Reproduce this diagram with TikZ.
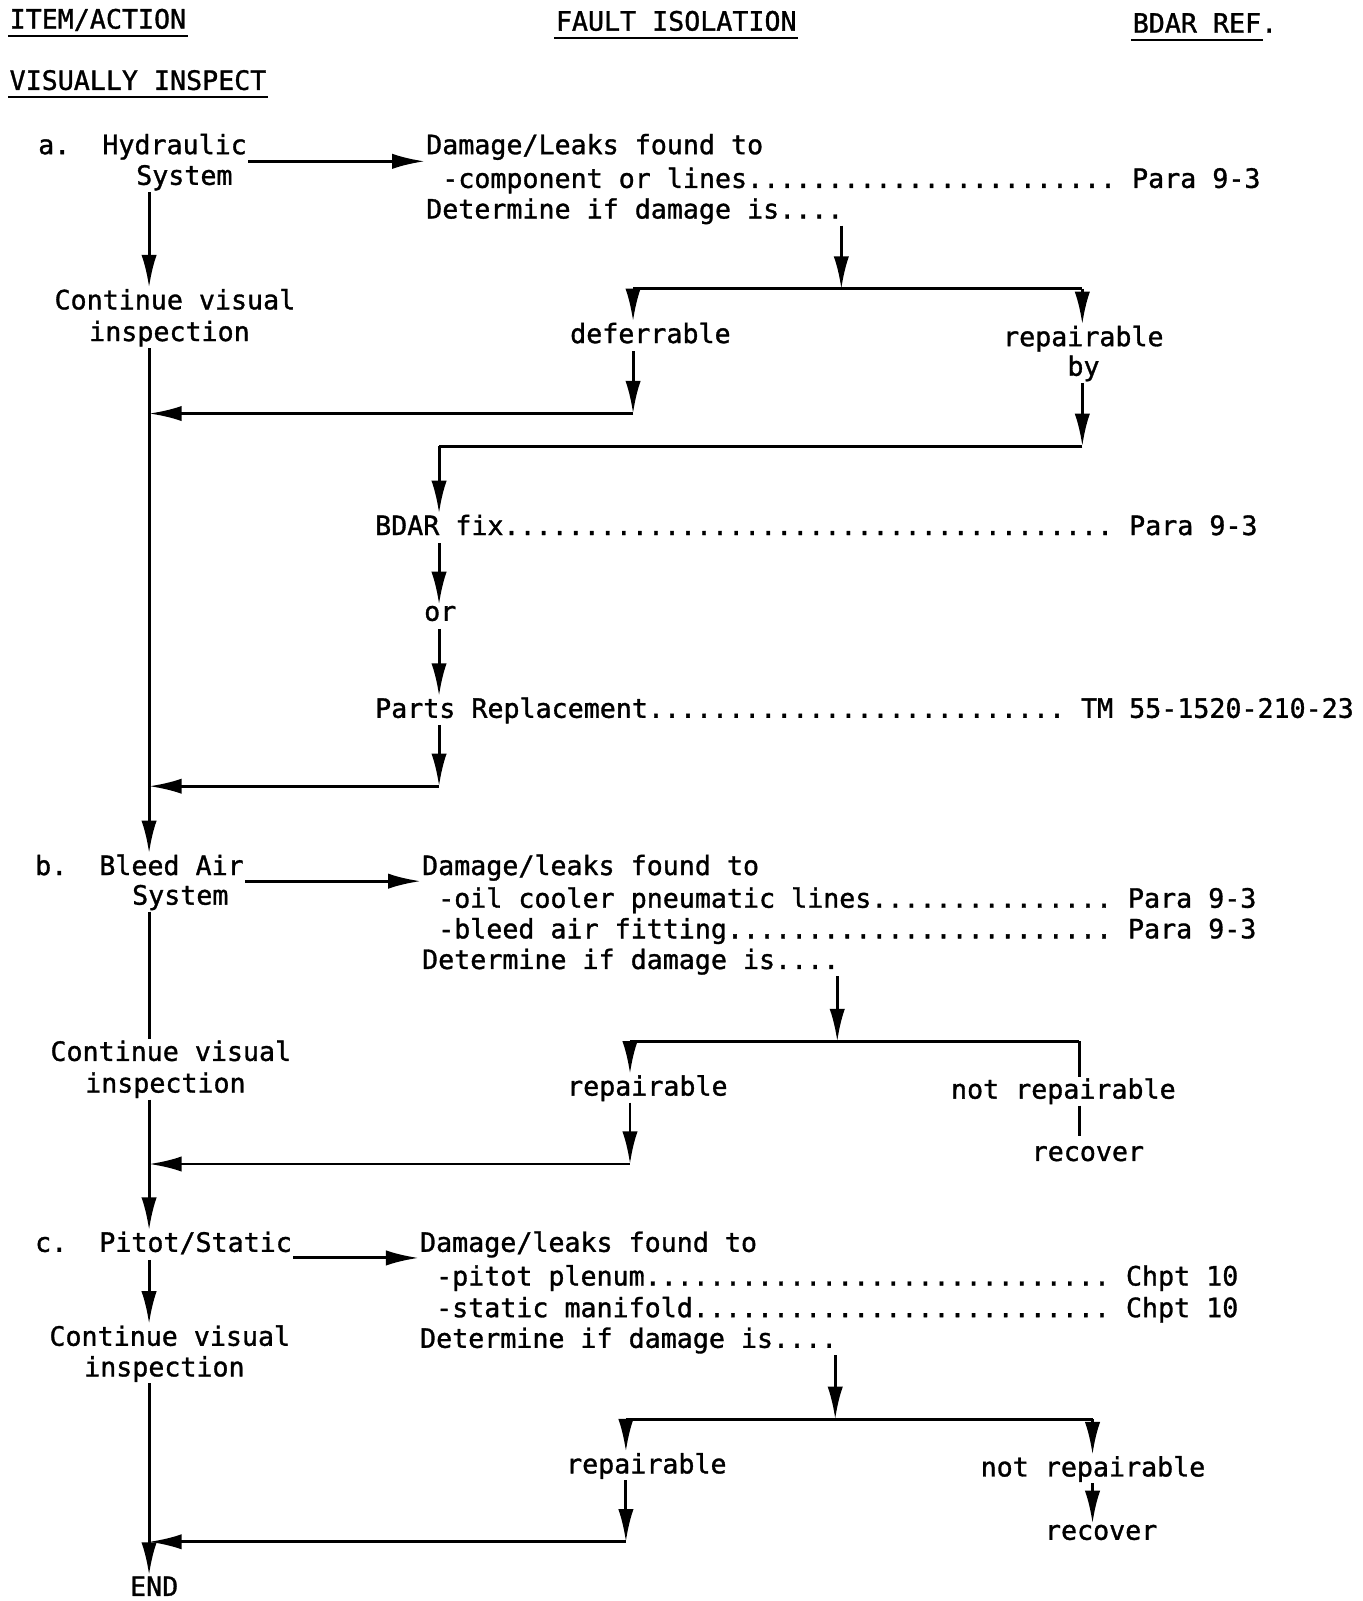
\documentclass[tikz,border=0pt]{standalone}
\usepackage{fontspec}
\setmonofont[FakeBold=1.2]{DejaVu Sans Mono}
\usetikzlibrary{arrows.meta,calc}
\ExplSyntaxOn
\cs_new:Npn \dotrun #1 {\prg_replicate:nn{#1}{.}}
\ExplSyntaxOff

\begin{document}
\begin{tikzpicture}[x=1pt,y=-1pt,line width=2.9pt,
  every node/.style={inner sep=0pt,anchor=base west,
    font=\ttfamily\fontsize{26.1}{31.5}\selectfont\frenchspacing},
  arr/.style={-{Latex[length=32pt,width=15pt]}},
  uline/.style={line width=2.4pt}]
  \useasboundingbox (0,0) rectangle (1334,1568);
  % headings
  \node (hitem) at (8,28) {ITEM/ACTION};
  \node (hfault) at (543,30) {FAULT ISOLATION};
  \node (hbdar) at (1108,32) {BDAR REF.};
  \node (hvis) at (8,88) {VISUALLY INSPECT};
  \draw[uline] ($(hitem.base west)+(0,7)$) -- ($(hitem.base east)+(0,7)$);
  \draw[uline] ($(hfault.base west)+(0,7)$) -- ($(hfault.base east)+(0,7)$);
  \draw[uline] ($(hbdar.base west)+(0,7)$) -- ($(hbdar.base east)+(-15.7,7)$);
  \draw[uline] ($(hvis.base west)+(0,7)$) -- ($(hvis.base east)+(0,7)$);
  \coordinate (spine) at (146,0);

  % a. hydraulic
  \node (aitem) at (36,151) {a.\ \ Hydraulic};
  \node (asys) at (132,181) {System};
  \node (acont) at (52,303) {Continue visual};
  \node (ainsp) at (86,334) {inspection};
  \node (adam) at (416,151) {Damage/Leaks found to};
  \node (acomp) at (416,184) {\ -component or lines\dotrun{23}\ Para 9-3};
  \node (adet) at (416,214) {Determine if damage is....};
  \node (adef) at (557,336) {deferrable};
  \node (arep) at (981,339) {repairable};
  \node (aby) at (1044,368) {by};
  \node (afix) at (366,524) {BDAR fix\dotrun{38}\ Para 9-3};
  \node (aor) at (414,608) {or};
  \node (aparts) at (366,703) {Parts Replacement\dotrun{26}\ TM 55-1520-210-23};
  \coordinate (abar) at (824,283);
  \coordinate (al) at (620,283);
  \coordinate (ar) at (1060,283);
  \coordinate (aret) at (620,405);
  \coordinate (ar2) at (1060,437);
  \coordinate (al2) at (430,437);
  \coordinate (aret2) at (430,770);
  \draw[arr] ($(aitem.base east)+(0,7)$) -- ($(adam.base west)+(0,7)$);
  \draw[arr] (asys.south -| spine) -- (acont.north -| spine);
  \draw[arr] (adet.south -| abar) -- (abar);
  \draw (al) -- (ar);
  \draw[arr] (al) -- (adef.north -| al);
  \draw[arr] (ar) -- (arep.north -| ar);
  \draw[arr,shorten <=6pt] (adef.south -| al) -- (aret);
  \draw[arr] (aret) -- (aret -| spine);
  \draw[arr] (aby.south -| ar) -- (ar2);
  \draw (ar2) -- (al2);
  \draw[arr] (al2) -- (afix.north -| al2);
  \draw[arr,shorten <=6pt] (afix.south -| al2) -- (aor.north -| al2);
  \draw[arr,shorten <=6pt] (aor.south -| al2) -- (aparts.north -| al2);
  \draw[arr] (aparts.south -| al2) -- (aret2);
  \draw[arr] (aret2) -- (aret2 -| spine);

  % b. bleed air
  \node (bitem) at (33,857) {b.\ \ Bleed Air};
  \node (bsys) at (128,886) {System};
  \node (bcont) at (48,1039) {Continue visual};
  \node (binsp) at (82,1070) {inspection};
  \node (bdam) at (412,857) {Damage/leaks found to};
  \node (boil) at (412,889) {\ -oil cooler pneumatic lines\dotrun{15}\ Para 9-3};
  \node (bbleed) at (412,919) {\ -bleed air fitting\dotrun{24}\ Para 9-3};
  \node (bdet) at (412,949) {Determine if damage is....};
  \node (brep) at (554,1073) {repairable};
  \node (bnot) at (930,1076) {not repairable};
  \node (brec) at (1009,1137) {recover};
  \coordinate (bbar) at (820,1020);
  \coordinate (bl) at (617,1020);
  \coordinate (br) at (1057,1020);
  \coordinate (bret) at (617,1140);
  \draw[arr] (ainsp.south -| spine) -- (bitem.north -| spine);
  \draw[arr] ($(bitem.base east)+(0,6)$) -- ($(bdam.base west)+(0,6)$);
  \draw (bsys.south -| spine) -- (bcont.north -| spine);
  \draw[arr] (bdet.south -| bbar) -- (bbar);
  \draw (bl) -- (br);
  \draw[arr] (bl) -- (brep.north -| bl);
  \draw (br) -- (bnot.north -| br);
  \draw[arr] (brep.south -| bl) -- (bret);
  \draw[arr] (bret) -- (bret -| spine);
  \draw[shorten >=8pt] (bnot.south -| br) -- (brec.north -| br);

  % c. pitot/static
  \node (citem) at (33,1226) {c.\ \ Pitot/Static};
  \node (ccont) at (47,1318) {Continue visual};
  \node (cinsp) at (81,1348) {inspection};
  \node (cdam) at (410,1226) {Damage/leaks found to};
  \node (cpit) at (410,1259) {\ -pitot plenum\dotrun{29}\ Chpt 10};
  \node (csta) at (410,1290) {\ -static manifold\dotrun{26}\ Chpt 10};
  \node (cdet) at (410,1320) {Determine if damage is....};
  \node (crep) at (553,1443) {repairable};
  \node (cnot) at (959,1446) {not repairable};
  \node (crec) at (1022,1508) {recover};
  \node (cend) at (126,1563) {END};
  \coordinate (cbar) at (818,1390);
  \coordinate (cl) at (613,1390);
  \coordinate (cr) at (1070,1390);
  \coordinate (cret) at (613,1510);
  \draw[arr] (binsp.south -| spine) -- (citem.north -| spine);
  \draw[arr] ($(citem.base east)+(0,6)$) -- ($(cdam.base west)+(0,6)$);
  \draw[arr,shorten <=4pt] (citem.south -| spine) -- (ccont.north -| spine);
  \draw[arr] (cinsp.south -| spine) -- (cend.north -| spine);
  \draw[arr] (cdet.south -| cbar) -- (cbar);
  \draw (cl) -- (cr);
  \draw[arr] (cl) -- (crep.north -| cl);
  \draw[arr] (cr) -- (cnot.north -| cr);
  \draw[arr] (crep.south -| cl) -- (cret);
  \draw[arr] (cret) -- (cret -| spine);
  \draw[arr] (cnot.south -| cr) -- (crec.north -| cr);
\end{tikzpicture}
\end{document}
